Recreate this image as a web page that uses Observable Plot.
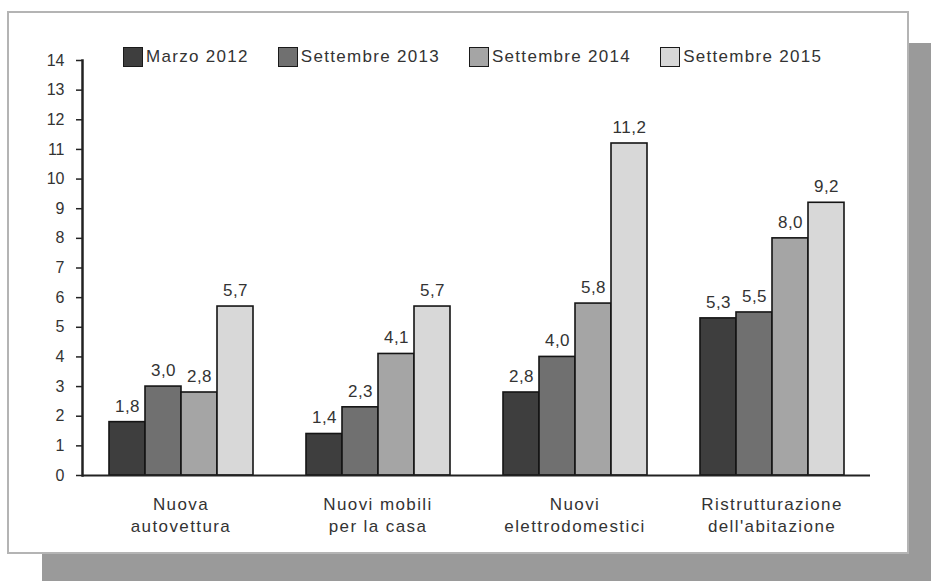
<!DOCTYPE html>
<html>
<head>
<meta charset="utf-8">
<script src="https://cdn.jsdelivr.net/npm/d3@7"></script>
<script src="https://cdn.jsdelivr.net/npm/@observablehq/plot@0.6"></script>
<style>
  html, body { margin: 0; padding: 0; background: #fff; }
  body { width: 931px; height: 581px; overflow: hidden; position: relative; font-family: "Liberation Sans", Arial, sans-serif; }
  #shadow { position: absolute; left: 42px; top: 43px; width: 900px; height: 545px; background: #9a9a9a; }
  #box { position: absolute; left: 7px; top: 11px; width: 898px; height: 539px; background: #fff; border: 2px solid #b4b4b4; }
  #chart { position: absolute; left: 0; top: 0; }
  #legend { position: absolute; left: 123px; top: 46px; display: flex; gap: 29px; align-items: center; }
  .item { display: flex; align-items: center; gap: 3px; }
  .sw { width: 18px; height: 18px; border: 1.6px solid #1a1a1a; }
  .lab { font-size: 17px; letter-spacing: 1.3px; color: #333; line-height: 22px; }
  g[aria-label="fx-axis tick label"] text { letter-spacing: 1.4px; }
  g[aria-label="y-axis tick label"] { font-size: 16px; }
  g[aria-label="text"] text { letter-spacing: 0.5px; }
</style>
</head>
<body>
<div id="shadow"></div>
<div id="box"></div>
<div id="chart"></div>
<div id="legend"></div>
<script>
const categories = ["Nuova\nautovettura", "Nuovi mobili\nper la casa", "Nuovi\nelettrodomestici", "Ristrutturazione\ndell'abitazione"];
const series = ["Marzo 2012", "Settembre 2013", "Settembre 2014", "Settembre 2015"];
const marzo2012 = [1.8, 1.4, 2.8, 5.3];
const settembre2013 = [3.0, 2.3, 4.0, 5.5];
const settembre2014 = [2.8, 4.1, 5.8, 8.0];
const settembre2015 = [5.7, 5.7, 11.2, 9.2];
const colors = ["#3e3e3e", "#707070", "#a5a5a5", "#d8d8d8"];
const yTicks = [0, 1, 2, 3, 4, 5, 6, 7, 8, 9, 10, 11, 12, 13, 14];

const seriesValues = [marzo2012, settembre2013, settembre2014, settembre2015];
const rows = [];
categories.forEach((c, i) => {
  series.forEach((s, j) => rows.push({cat: c, series: s, value: seriesValues[j][i]}));
});
const fmt = v => d3.format(".1f")(v).replace(".", ",");

const plot = Plot.plot({
  width: 931,
  height: 581,
  marginLeft: 82,
  marginRight: 61,
  marginTop: 60,
  marginBottom: 106,
  style: {background: "transparent", fontFamily: "'Liberation Sans', Arial, sans-serif", fontSize: "17px", color: "#333"},
  fx: {domain: categories, padding: 0, label: null},
  x: {domain: series, paddingInner: 0, paddingOuter: 0.736, axis: null},
  y: {domain: [0, 14], label: null},
  color: {domain: series, range: colors},
  marks: [
    Plot.barY(rows, {fx: "cat", x: "series", y: "value", fill: "series", stroke: "#151515", strokeWidth: 1.6}),
    Plot.ruleY([0], {stroke: "#222", strokeWidth: 1.8}),
    Plot.frame({anchor: "left", facetAnchor: "left", stroke: "#222", strokeWidth: 2.5}),
    Plot.text(rows, {fx: "cat", x: "series", y: "value", text: d => fmt(d.value), dy: -16, fontSize: 17, fill: "#333"}),
    Plot.axisY({ticks: yTicks, tickSize: 6, tickPadding: 12, label: null, stroke: "#222", strokeWidth: 1.5}),
    Plot.axisFx({anchor: "bottom", tickSize: 0, tickPadding: 20, label: null, fontSize: 17, lineHeight: 1.24})
  ]
});
document.getElementById("chart").appendChild(plot);

const legend = document.getElementById("legend");
series.forEach((s, j) => {
  const item = document.createElement("div");
  item.className = "item";
  const sw = document.createElement("div");
  sw.className = "sw";
  sw.style.background = colors[j];
  const lab = document.createElement("span");
  lab.className = "lab";
  lab.textContent = s;
  item.appendChild(sw);
  item.appendChild(lab);
  legend.appendChild(item);
});
</script>
</body>
</html>
